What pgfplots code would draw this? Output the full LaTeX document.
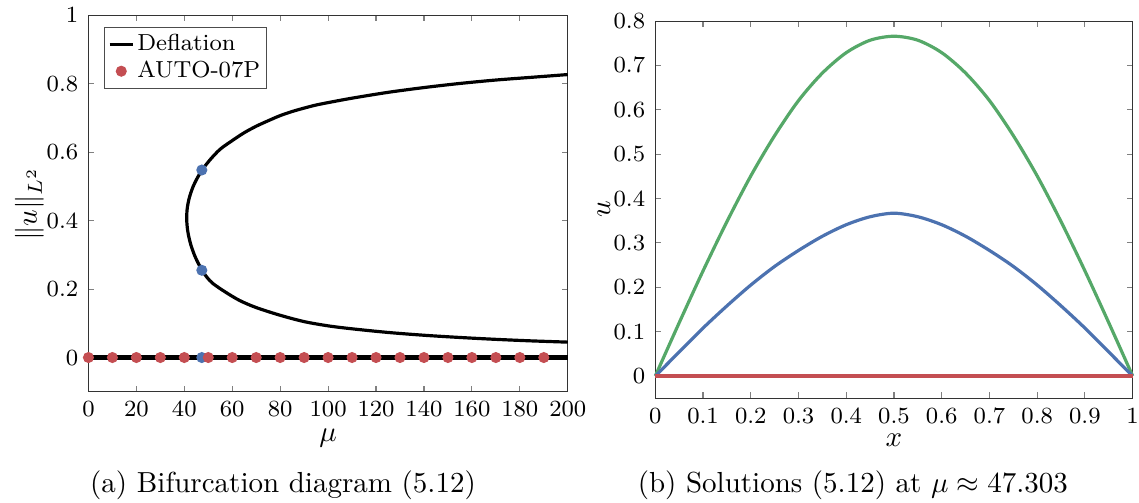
\documentclass[border=0pt]{standalone}
\usepackage{pgfplots}
\pgfplotsset{compat=1.18}
\definecolor{sred}{RGB}{196,78,82}
\definecolor{sblue}{RGB}{76,114,176}
\definecolor{sgreen}{RGB}{85,168,104}
\begin{document}
\begin{tikzpicture}
\useasboundingbox (0,0) rectangle (392.8pt,173.4pt);
\pgfplotsset{
  every axis/.append style={
    scale only axis,
    axis line style={black!80},
    tick style={black!50, line width=0.4pt},
    major tick length=2pt,
    tick label style={font=\footnotesize},
    label style={font=\normalsize},
    clip=false,
  }
}
\begin{axis}[at={(30.5pt,38.3pt)}, anchor=south west,
  width=165.3pt, height=129.8pt,
  xmin=0, xmax=200, ymin=-0.1, ymax=1,
  xtick={0,20,40,60,80,100,120,140,160,180,200},
  ytick={0,0.2,0.4,0.6,0.8,1},
  xlabel={$\mu$}, ylabel={$\|u\|_{L^2}$},
  xlabel style={at={(axis description cs:0.5,-0.1333)}, anchor=base},
  ylabel style={at={(axis description cs:-0.108,0.5)}, anchor=base},
  legend style={at={(0.032,0.969)}, anchor=north west, font=\footnotesize,
    draw=black!70, inner xsep=1.3pt, inner ysep=1.3pt, nodes={inner sep=1pt}, row sep=0pt},
  legend cell align=left,
  legend image code/.code={\draw[mark repeat=2,mark phase=2,#1] plot coordinates {(0cm,0cm) (0.14cm,0cm) (0.28cm,0cm)};},
]
\addplot[black, line width=1.1pt, smooth, tension=0.5] coordinates {
(200,0.045) (185,0.0486) (170,0.0531) (155,0.0586) (140,0.0651) (125,0.0733)
(110,0.0839) (100,0.0926) (90,0.105) (80,0.1235) (70,0.146) (63,0.167)
(57,0.192) (52,0.216) (49.5,0.234) (47.4,0.255) (45.5,0.28) (44.2,0.30)
(42.7,0.33) (41.67,0.36) (41.24,0.38) (41.06,0.395) (41,0.41) (41.08,0.425)
(41.3,0.44) (41.84,0.46) (42.65,0.48) (43.7,0.50) (45.07,0.52) (47.4,0.548)
(51,0.580) (55,0.609) (60,0.634) (65,0.657) (70,0.676) (75,0.692)
(80,0.707) (85,0.719) (90,0.729) (95,0.738) (100,0.745) (110,0.758)
(125,0.775) (140,0.789) (155,0.801) (170,0.811) (185,0.819) (200,0.827)
};
\addlegendentry{Deflation}
\addplot[black, line width=1.4pt, forget plot] coordinates {(0,0) (200,0)};
\addplot[only marks, mark=*, mark size=1.7pt, color=sblue, forget plot] coordinates {
(47.303,0.548) (47.303,0.255) (47.303,0)};
\addplot[only marks, mark=*, mark size=1.7pt, color=sred] coordinates {
(0,0) (10,0) (20,0) (30,0) (40,0) (50,0) (60,0) (70,0) (80,0) (90,0)
(100,0) (110,0) (120,0) (130,0) (140,0) (150,0) (160,0) (170,0) (180,0) (190,0)};
\addlegendentry{AUTO-07P}
\end{axis}

\begin{axis}[at={(226.0pt,36.1pt)}, anchor=south west,
  width=164.6pt, height=130pt,
  xmin=0, xmax=1, ymin=-0.05, ymax=0.8,
  xtick={0,0.1,0.2,0.3,0.4,0.5,0.6,0.7,0.8,0.9,1},
  ytick={0,0.1,0.2,0.3,0.4,0.5,0.6,0.7,0.8},
  xlabel={$x$}, ylabel={$u$},
  xlabel style={at={(axis description cs:0.5,-0.129)}, anchor=base},
  ylabel style={at={(axis description cs:-0.0948,0.5)}, anchor=base},
]
\addplot[sgreen, line width=1.1pt, smooth] coordinates {
(0,0) (0.05,0.120) (0.1,0.237) (0.15,0.348) (0.2,0.451) (0.25,0.542)
(0.3,0.621) (0.35,0.683) (0.4,0.729) (0.45,0.757) (0.5,0.766)
(0.55,0.757) (0.6,0.729) (0.65,0.683) (0.7,0.621) (0.75,0.542)
(0.8,0.451) (0.85,0.348) (0.9,0.237) (0.95,0.120) (1,0)};
\addplot[sblue, line width=1.1pt, smooth] coordinates {
(0,0) (0.05,0.054) (0.1,0.108) (0.15,0.158) (0.2,0.205) (0.25,0.247)
(0.3,0.283) (0.35,0.315) (0.4,0.341) (0.45,0.359) (0.5,0.367)
(0.55,0.359) (0.6,0.341) (0.65,0.315) (0.7,0.283) (0.75,0.247)
(0.8,0.205) (0.85,0.158) (0.9,0.108) (0.95,0.054) (1,0)};
\addplot[sred, line width=1.1pt] coordinates {(0,0) (1,0)};
\end{axis}

\node[font=\normalsize, anchor=base] at (97.6pt,3.6pt) {(a) Bifurcation diagram (5.12)};
\node[font=\normalsize, anchor=base] at (294.1pt,3.6pt) {(b) Solutions (5.12) at $\mu\approx 47.303$};
\end{tikzpicture}
\end{document}
